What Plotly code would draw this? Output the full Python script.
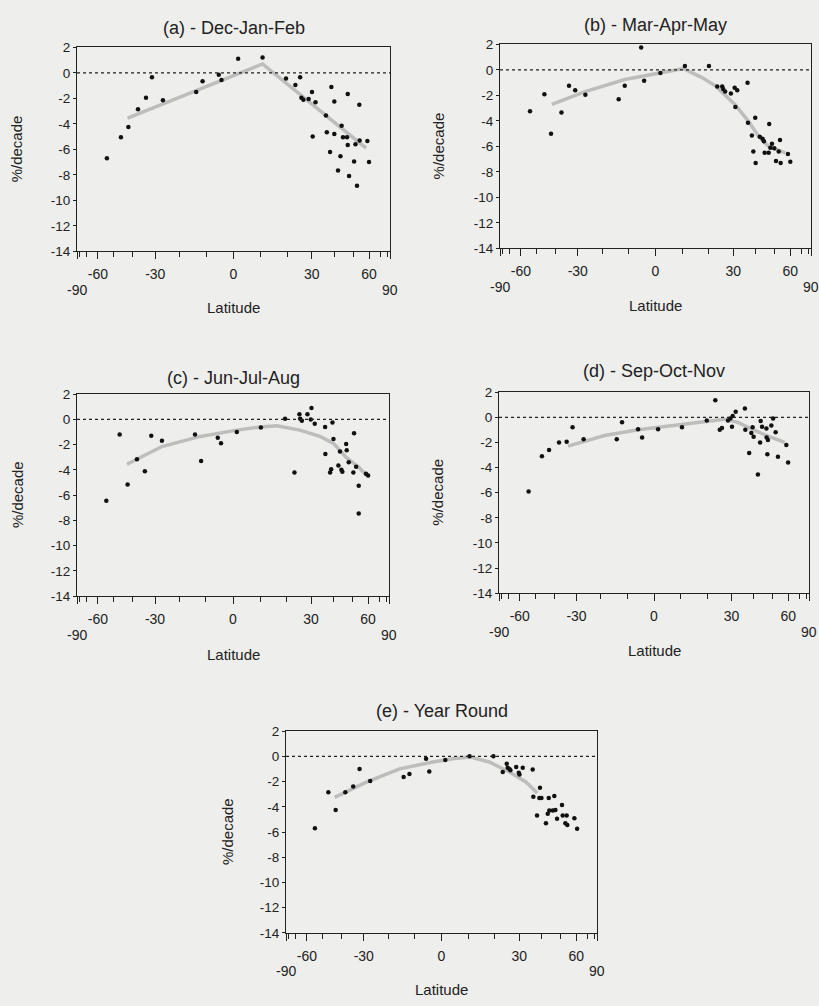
import numpy as np
import plotly.graph_objects as go

W, H = 819, 1006

titles = ["(a) - Dec-Jan-Feb", "(b) - Mar-Apr-May", "(c) - Jun-Jul-Aug",
          "(d) - Sep-Oct-Nov", "(e) - Year Round"]

a_lat = [-54, -46, -42.2, -37.6, -34, -31.4, -26.8, -13.8, -11.4, -5.4, -4.4, 1.7, 10.7, 19.6, 23.3,
         25.2, 25.7, 26.5, 28.7, 30.1, 31.6, 30.4, 36.2, 36.6, 38.1, 38.7, 40.1, 40.1, 41.9, 43.1,
         43.7, 44.4, 46.5, 46.9, 46.9, 47.6, 50.4, 51.2, 52.1, 53.5, 53.7, 58.8, 60]
a_val = [-6.7, -5.05, -4.25, -2.85, -1.95, -0.35, -2.15, -1.5, -0.65, -0.15, -0.55, 1.1, 1.2, -0.45,
         -0.95, -0.35, -1.95, -2.1, -2.05, -1.5, -2.3, -5.0, -3.35, -4.65, -6.2, -1.1, -2.25, -4.8,
         -7.65, -6.55, -4.15, -5.05, -5.05, -5.65, -1.65, -8.1, -6.95, -5.6, -8.85, -2.5, -5.3,
         -5.35, -7.0]
a_fit_lat = [-42.6, 10.7, 57.9]
a_fit_val = [-3.55, 0.7, -5.9]

b_lat = [-53.8, -45.6, -42.2, -37.2, -33.8, -31.1, -26.8, -13.7, -11.4, -5.3, -4.2, 1.8, 10.9, 20.1,
         23.4, 25.4, 25.8, 26.6, 29.0, 30.6, 30.9, 31.7, 36.3, 36.5, 38.3, 39.0, 39.9, 40.1, 42.1,
         43.5, 44.2, 44.6, 46.7, 47.0, 47.6, 48.5, 49.8, 50.8, 52.4, 53.2, 53.6, 58.4, 60.1]
b_val = [-3.25, -1.9, -5.0, -3.35, -1.25, -1.6, -1.95, -2.3, -1.25, 1.75, -0.85, -0.25, 0.3, 0.3,
         -1.3, -1.3, -1.5, -1.7, -1.85, -1.4, -2.9, -1.6, -1.0, -4.15, -5.15, -6.4, -3.75, -7.3,
         -5.25, -5.4, -5.6, -6.5, -6.5, -4.25, -6.1, -5.8, -6.15, -7.15, -6.4, -5.5, -7.3, -6.6, -7.2]
b_fit_lat = [-41.8, -26.9, -11.4, 1.0, 10.4, 17.4, 22.6, 30.9, 36.8, 41.5, 46.7, 56.6]
b_fit_val = [-2.7, -1.7, -0.75, -0.3, 0.1, -0.6, -1.25, -2.75, -4.05, -5.2, -6.0, -6.5]

c_lat = [-54.3, -46.6, -42.5, -38.0, -34.4, -31.6, -27.1, -14.1, -11.8, -5.6, -4.4, 1.4, 10.3, 19.5,
         23.2, 25.2, 25.5, 26.2, 28.5, 30.2, 29.9, 31.6, 36.2, 36.3, 38.5, 39.0, 39.6, 40.1, 42.5,
         43.3, 44.0, 44.5, 46.5, 46.8, 47.9, 50.5, 50.9, 52.1, 53.7, 53.7, 58.5, 60.0]
c_val = [-6.45, -1.2, -5.15, -3.15, -4.1, -1.3, -1.7, -1.2, -3.3, -1.45, -1.9, -1.0, -0.65, 0.05,
         -4.2, 0.4, 0.05, -0.1, 0.4, 0.9, 0.0, -0.35, -0.6, -2.75, -4.2, -3.95, -0.25, -1.55, -3.65,
         -2.55, -4.0, -4.15, -1.95, -2.45, -3.4, -4.2, -1.1, -3.75, -5.25, -7.45, -4.3, -4.45]
c_fit_lat = [-42.8, -27.1, -12.1, 1.4, 10.3, 16.3, 25.4, 33.9, 40.1, 46.8, 53.5, 59.0]
c_fit_val = [-3.55, -2.15, -1.35, -0.85, -0.6, -0.5, -0.85, -1.35, -1.9, -3.05, -3.75, -4.45]

d_lat = [-54.0, -46.3, -42.6, -37.8, -34.3, -31.7, -27.0, -13.9, -11.9, -5.9, -4.4, 1.5, 10.4, 19.9,
         23.3, 25.1, 26.0, 28.5, 29.5, 30.2, 30.5, 31.8, 35.9, 36.1, 37.9, 38.9, 39.5, 40.0, 42.1,
         43.2, 43.5, 44.2, 46.5, 46.6, 47.0, 47.3, 49.2, 50.2, 51.7, 53.1, 58.6, 59.9]
d_val = [-5.9, -3.1, -2.6, -2.0, -1.95, -0.8, -1.75, -1.75, -0.4, -0.95, -1.6, -0.95, -0.8, -0.25,
         1.35, -1.0, -0.85, -0.25, -0.1, -0.75, 0.1, 0.45, 0.7, -1.0, -2.85, -1.25, -0.8, -1.55,
         -4.55, -2.0, -0.3, -0.75, -0.9, -1.6, -2.95, -1.8, -0.65, -0.1, -1.2, -3.15, -2.2, -3.6]
d_fit_lat = [-33.7, -18.6, -5.9, 6.4, 19.1, 27.1, 32.8, 40.5, 49.2, 57.5]
d_fit_val = [-2.3, -1.45, -1.0, -0.7, -0.35, -0.15, -0.4, -1.05, -1.6, -2.0]

e_lat = [-54.5, -46.7, -42.9, -38.2, -34.6, -31.8, -27.3, -14.1, -11.9, -5.7, -4.5, 1.4, 10.4, 19.5,
         23.2, 24.8, 25.2, 25.9, 26.3, 28.7, 29.8, 30.1, 31.5, 35.9, 36.2, 37.9, 39.3, 39.0, 40.0,
         42.2, 43.1, 43.6, 43.9, 45.7, 46.5, 47.1, 48.0, 50.8, 51.2, 52.8, 53.6, 54.0, 58.7, 60.7]
e_val = [-5.7, -2.85, -4.25, -2.85, -2.4, -1.0, -1.95, -1.65, -1.4, -0.2, -1.2, -0.3, 0.0, 0.0,
         -1.25, -0.6, -0.9, -1.0, -1.1, -0.85, -1.3, -1.45, -0.9, -1.05, -3.2, -4.7, -2.5, -3.3,
         -3.3, -5.3, -4.55, -3.3, -4.3, -4.3, -3.15, -4.25, -4.95, -3.85, -4.7, -5.3, -4.7, -5.45,
         -4.9, -5.75]
e_fit_lat = [-43.4, -28.9, -15.6, -3.2, 4.2, 10.4, 17.9, 25.9, 33.0, 38.0]
e_fit_val = [-3.25, -2.05, -1.0, -0.45, -0.2, -0.05, -0.45, -1.25, -2.05, -2.9]

major_lat = [-90, -60, -30, 0, 30, 60, 90]
major_text = ["", "-60", "-30", "0", "30", "60", ""]
minor_lat = list(range(-80, 90, 10))
y_ticks = [2, 0, -2, -4, -6, -8, -10, -12, -14]
y_text = [str(v) for v in y_ticks]

# plot-area boxes in pixels: left, right, top, bottom
boxes = [(77, 390, 41, 248), (500, 811, 38, 245), (77, 389, 393, 598),
         (499, 809, 391, 595), (286, 597, 735, 940)]
title_y = [21, 18, 377, 370, 715]
ytitle_x = [16, 438, 17, 438, 227]
lat_label_y = [305, 303, 657, 653, 997]

data = [(a_lat, a_val, a_fit_lat, a_fit_val), (b_lat, b_val, b_fit_lat, b_fit_val),
        (c_lat, c_val, c_fit_lat, c_fit_val), (d_lat, d_val, d_fit_lat, d_fit_val),
        (e_lat, e_val, e_fit_lat, e_fit_val)]


def sx(lat):
    # area-weighted (sine of latitude) axis
    return np.sin(np.radians(np.asarray(lat, dtype=float)))


fig = go.Figure()
ink = "#222222"
font = "Liberation Sans, Arial, sans-serif"
annotations = []
shapes = []

for i, (lat, val, flat, fval) in enumerate(data):
    n = "" if i == 0 else str(i + 1)
    xr, yr = "x" + n, "y" + n
    l, r, t, b = boxes[i]
    fig.add_trace(go.Scatter(x=sx(flat), y=fval, xaxis=xr, yaxis=yr, mode="lines",
                             line=dict(color="#bdbdbd", width=3.5), showlegend=False,
                             hoverinfo="skip"))
    fig.add_trace(go.Scatter(x=sx(lat), y=val, xaxis=xr, yaxis=yr, mode="markers",
                             marker=dict(color="#111111", size=4.5), showlegend=False))
    fig.layout["xaxis" + n] = dict(
        domain=[l / W, r / W], anchor=yr, range=[-1, 1], showgrid=False, zeroline=False,
        tickmode="array", tickvals=list(sx(major_lat)), ticktext=major_text,
        ticks="outside", ticklen=7, tickwidth=1.3, tickcolor=ink, ticklabelstandoff=3,
        minor=dict(tickmode="array", tickvals=list(sx(minor_lat)), ticks="outside",
                   ticklen=5, tickwidth=1, tickcolor=ink),
        showline=True, linecolor=ink, linewidth=1, mirror=True,
        tickfont=dict(size=14, color=ink, family=font))
    fig.layout["yaxis" + n] = dict(
        domain=[1 - b / H, 1 - t / H], anchor=xr, range=[-14, 2], showgrid=False,
        zeroline=False, tickmode="array", tickvals=y_ticks, ticktext=y_text,
        ticks="outside", ticklen=3, tickcolor=ink,
        showline=True, linecolor=ink, linewidth=1, mirror=True,
        tickfont=dict(size=13.5, color=ink, family=font))
    shapes.append(dict(type="line", xref=xr + " domain", yref=yr, x0=0, x1=1, y0=0, y1=0,
                       line=dict(color=ink, width=1.2, dash="dot")))
    cx = (l + r) / 2 / W
    annotations.append(dict(text=titles[i], xref="paper", yref="paper", x=cx,
                            y=1 - title_y[i] / H, showarrow=False, xanchor="center",
                            yanchor="middle", font=dict(size=18, color=ink, family=font)))
    annotations.append(dict(text="%/decade", xref="paper", yref="paper", x=ytitle_x[i] / W,
                            y=1 - (t + b) / 2 / H, textangle=-90, showarrow=False,
                            xanchor="center", yanchor="middle",
                            font=dict(size=15, color=ink, family=font)))
    annotations.append(dict(text="Latitude", xref="paper", yref="paper", x=cx,
                            y=1 - lat_label_y[i] / H, showarrow=False, xanchor="center",
                            yanchor="middle", font=dict(size=15, color=ink, family=font)))
    for lt, txt in ((-90, "-90"), (90, "90")):
        annotations.append(dict(text=txt, xref=xr, yref="paper", x=float(sx(lt)),
                                y=1 - (b + 39) / H, showarrow=False, xanchor="center",
                                yanchor="middle", font=dict(size=14, color=ink, family=font)))

fig.update_layout(width=W, height=H, margin=dict(l=0, r=0, t=0, b=0),
                  paper_bgcolor="#eeeeec", plot_bgcolor="#eeeeec",
                  annotations=annotations, shapes=shapes, showlegend=False)

fig.write_html("out.html")
